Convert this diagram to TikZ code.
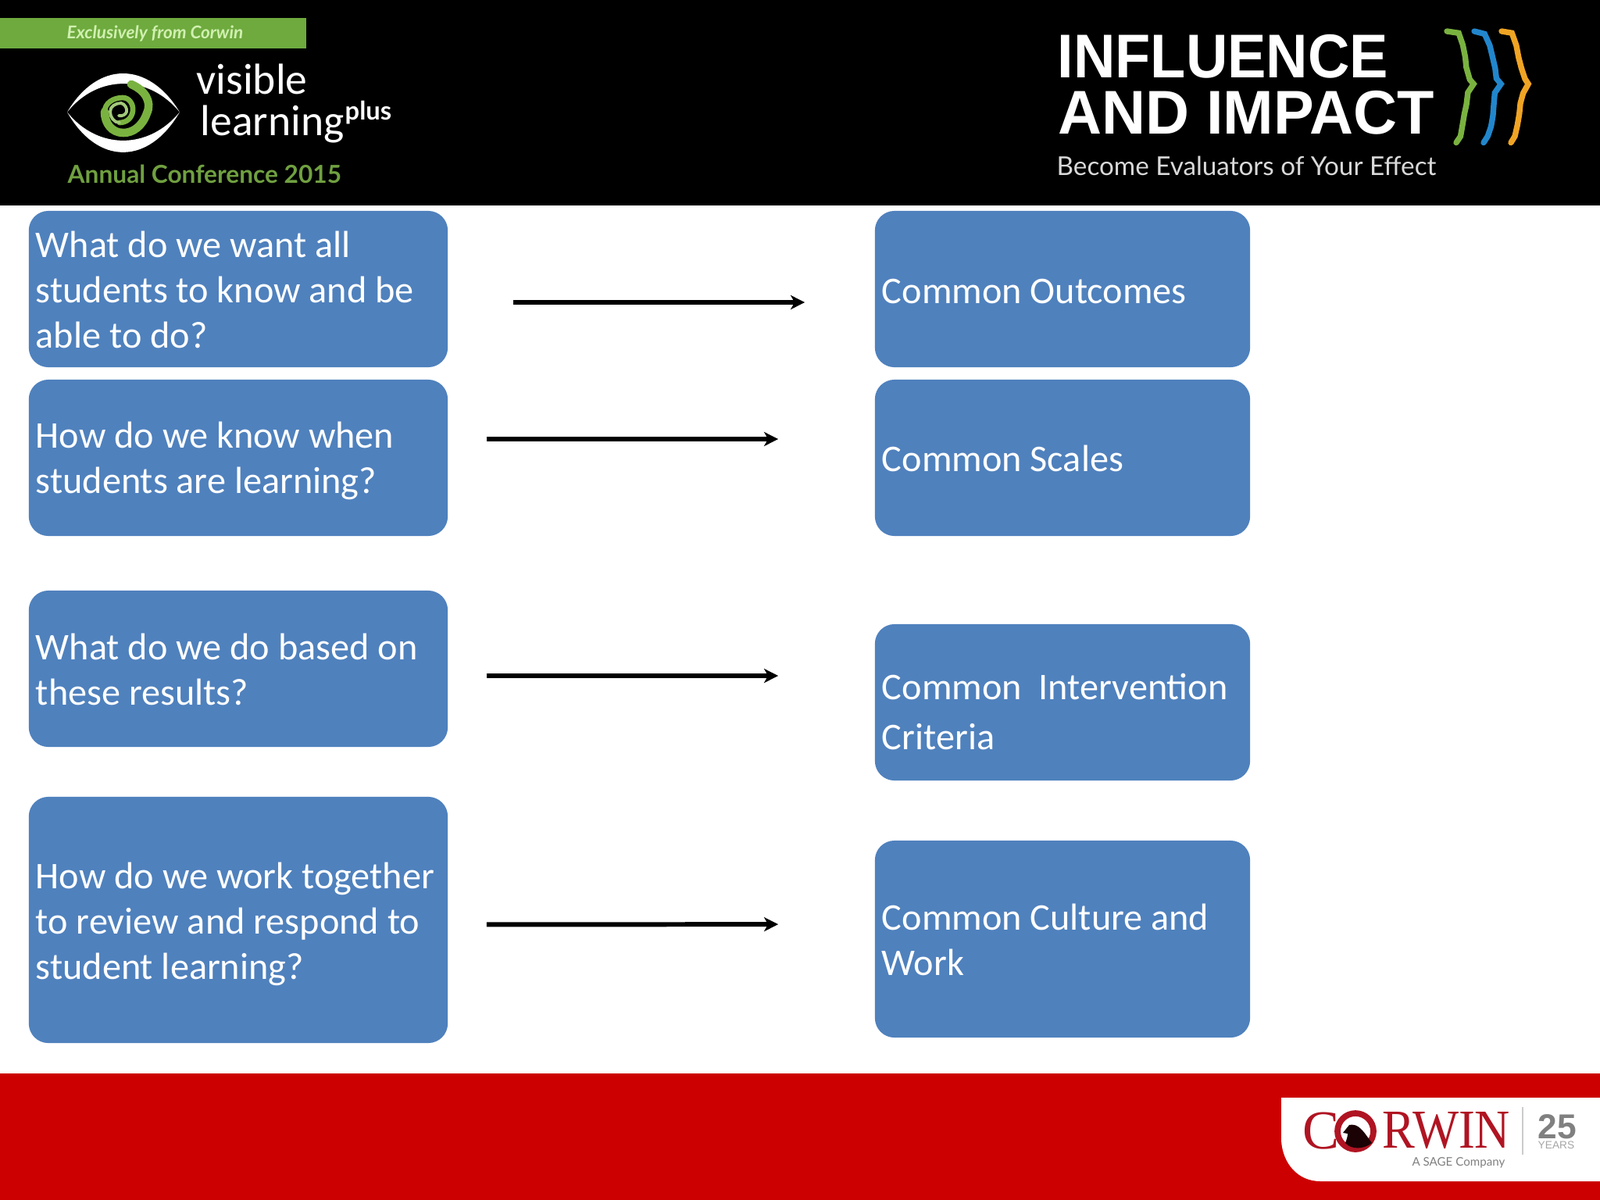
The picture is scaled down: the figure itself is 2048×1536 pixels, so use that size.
\documentclass[tikz,border=0pt]{standalone}
\usepackage{fontspec}
\setmainfont{Carlito}
\newfontfamily\logofont{Lato}
\newfontfamily\serifcaps{Liberation Serif}
\newfontfamily\headfont{Liberation Sans}
\usetikzlibrary{arrows.meta,decorations.pathmorphing}
\definecolor{boxblue}{RGB}{79,129,189}
\definecolor{footred}{RGB}{204,0,0}
\definecolor{corwinred}{RGB}{176,20,34}
\definecolor{barsgreen}{RGB}{110,170,62}
\definecolor{palegreen}{RGB}{208,240,176}
\definecolor{confgreen}{RGB}{112,160,64}
\definecolor{spiralgreen}{RGB}{122,178,64}
\definecolor{brushblue}{RGB}{34,134,204}
\definecolor{brushorange}{RGB}{240,164,36}
\definecolor{softgrey}{RGB}{128,128,128}
\newcommand{\firstline}[1]{\rule{0pt}{#1}}
\tikzset{
  questionbox/.style={fill=boxblue,rounded corners=0.25cm,text=white,align=flush left,
    inner sep=0.09cm,text width=5.18cm,minimum width=5.36cm,
    font=\fontsize{13.72}{16.5}\selectfont},
  answerbox/.style={questionbox,text width=4.62cm,minimum width=4.80cm},
  flow/.style={line width=1.7pt,-{Stealth[length=0.18cm,width=0.18cm,inset=0.05cm]}},
  brush/.style={line width=2.1pt,line cap=round,decorate,
    decoration={random steps,segment length=4pt,amplitude=0.35pt}},
  logotext/.style={inner sep=0pt,anchor=west,text=white}
}
\begin{document}
\begin{tikzpicture}[x=0.01cm,y=-0.01cm]
    \useasboundingbox (0,0) rectangle (2048,1536);
    % header and footer bands
    \fill[black] (0,0) rectangle (2048,263);
    \fill[footred] (0,1374) rectangle (2048,1536);
    \fill[barsgreen] (0,23) rectangle (392,62);
    % conference logo
    \node[logotext,text=palegreen] (exclusive) at (85,43)
      {\fontsize{6.4}{7}\selectfont\logofont\bfseries\itshape Exclusively from Corwin};
    \fill[white] (86,143.5) .. controls (125,77.5) and (190,77.5) .. (230,143.5)
      .. controls (190,95) and (125,95) .. (86,143.5);
    \fill[white] (86,143.5) .. controls (125,212) and (190,212) .. (230,143.5)
      .. controls (190,192) and (125,192) .. (86,143.5);
    \draw[spiralgreen,line width=3pt,line cap=round] (168,108)
      .. controls (185,115) and (195,130) .. (188,145)
      .. controls (182,162) and (170,170) .. (158,170)
      .. controls (143,170) and (134,158) .. (134,143);
    \draw[spiralgreen,line width=1.9pt,line cap=round] (134,143)
      .. controls (134,132) and (145,125) .. (157,125)
      .. controls (166,125) and (171,134) .. (170,142)
      .. controls (169,151) and (162,157) .. (153,157);
    \draw[spiralgreen!70!white,line width=1.1pt,line cap=round] (153,157)
      .. controls (146,157) and (141,150) .. (141,143)
      .. controls (141,136) and (148,132) .. (155,132)
      .. controls (160,133) and (163,139) .. (162,143)
      .. controls (161,147) and (156,149) .. (152,148);
    \node[logotext] (visible) at (251,101)
      {\fontsize{15.8}{18}\selectfont visible};
    \node[logotext] (learning) at (256,159)
      {\fontsize{15.8}{18}\selectfont learning};
    \node[logotext] (plus) at (441,144)
      {\fontsize{9.3}{11}\selectfont\logofont\bfseries plus};
    \node[logotext,text=confgreen] (conference) at (86,223)
      {\fontsize{9}{10}\selectfont\logofont\bfseries Annual Conference 2015};
    % theme logo
    \node[logotext] (influence) at (1353,72)
      {\fontsize{22.5}{24}\selectfont\headfont\bfseries\scalebox{0.935}[1]{INFLUENCE}};
    \node[logotext] (impact) at (1354,144)
      {\fontsize{22.5}{24}\selectfont\headfont\bfseries\scalebox{0.98}[1]{AND IMPACT}};
    \node[logotext,text=white!85!black] (become) at (1352,212)
      {\fontsize{9.45}{11}\selectfont\logofont Become Evaluators of Your Effect};
    \foreach \dx/\col in {0/spiralgreen,35/brushblue,70/brushorange}
      \draw[brush,\col] (1852+\dx,40)
        .. controls (1875+\dx,44) and (1872+\dx,90) .. (1887+\dx,107)
        .. controls (1874+\dx,125) and (1878+\dx,165) .. (1863+\dx,182);
    % questions on the left
    \node[questionbox,minimum height=2cm] (q1) at (305,370)
      {\firstline{10.2pt}What do we want all\\students to know and be\\able to do?};
    \node[questionbox,minimum height=2cm] (q2) at (305,586)
      {\firstline{11.7pt}How do we know when\\students are learning?};
    \node[questionbox,minimum height=2cm] (q3) at (305,856)
      {\firstline{10.2pt}What do we do based on\\these results?};
    \node[questionbox,minimum height=3.15cm] (q4) at (305,1177.5)
      {\firstline{12.4pt}How do we work together\\to review and respond to\\student learning?};
    % answers on the right
    \node[answerbox,minimum height=2cm] (a1) at (1360,370)
      {\firstline{10.7pt}Common Outcomes};
    \node[answerbox,minimum height=2cm] (a2) at (1360,586)
      {\firstline{9.9pt}Common Scales};
    \node[answerbox,minimum height=2cm] (a3) at (1360,899)
      {\firstline{16.3pt}Common~~Intervention\\[1.7pt]Criteria};
    \node[answerbox,minimum height=2.52cm] (a4) at (1360,1202)
      {\firstline{10.2pt}Common Culture and\\Work};
    % arrows between the boxes
    \foreach \q/\a/\ya/\yb/\sa/\sb in {q1/a1/-17/-17/0.83/0.89,q2/a2/24/24/0.49/1.23,
        q3/a3/-9/34/0.49/1.23,q4/a4/-6/19/0.49/1.23}
      \draw[flow,shorten <=\sa cm,shorten >=\sb cm]
        ([yshift=\ya*0.01cm]\q.east) -- ([yshift=\yb*0.01cm]\a.west);
    % publisher logo
    \fill[white] (2048,1405) -- (1640,1405) -- (1640,1460)
      .. controls (1642,1490) and (1662,1512) .. (1690,1512) -- (2048,1512) -- cycle;
    \node[inner sep=0pt,text=corwinred] (corwinc) at (1691,1448)
      {\fontsize{20}{22}\selectfont\serifcaps C};
    \draw[corwinred,line width=2.2pt,fill=white] (1735,1448) circle (23);
    \fill[black!85!corwinred] (1719,1450) -- (1727,1440)
      .. controls (1736,1438) and (1742,1444) .. (1748,1452)
      -- (1756,1463) .. controls (1746,1471) and (1730,1472) .. (1722,1463)
      .. controls (1724,1458) and (1725,1454) .. (1725,1451) -- cycle;
    \node[logotext,text=corwinred] (corwinrest) at (1769,1447)
      {\fontsize{20}{20}\selectfont\serifcaps\scalebox{0.89}[1]{RWIN}};
    \node[logotext,text=softgrey,anchor=east] (sage) at (1927,1488)
      {\fontsize{4.3}{5}\selectfont\logofont A SAGE Company};
    \coordinate (divtop) at (1949,1417);
    \coordinate (divbot) at (1949,1478);
    \draw[black!20,line width=0.6pt] (divtop) -- (divbot);
    \node[logotext,text=softgrey] (years25) at (1968,1442)
      {\fontsize{12.6}{14}\selectfont\headfont\bfseries 25};
    \node[logotext,text=softgrey!70] (years) at (1968,1466)
      {\fontsize{3.9}{5}\selectfont\headfont YEARS};
\end{tikzpicture}
\end{document}
